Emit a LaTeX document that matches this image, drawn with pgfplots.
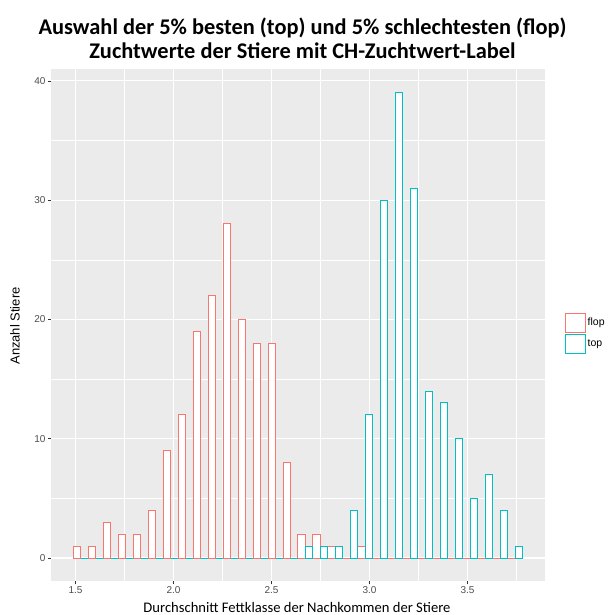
\documentclass[border=0pt]{standalone}
\usepackage{pgfplots}
\pgfplotsset{compat=1.18}
\usepackage{fontspec}
\setmainfont{Liberation Sans}
\newfontfamily\calibri{Carlito}
\definecolor{flopc}{HTML}{F8766D}
\definecolor{topc}{HTML}{00BFC4}
\definecolor{panelbg}{HTML}{EBEBEB}
\definecolor{gray30}{HTML}{4D4D4D}
\definecolor{gray20}{HTML}{333333}
\begin{document}
\begin{tikzpicture}[x=1pt,y=1pt]
\useasboundingbox (0,0) rectangle (607,615);
\begin{axis}[
  at={(51pt,33.7pt)}, anchor=south west,
  scale only axis, width=494pt, height=511.8pt,
  xmin=1.3752, xmax=3.8954, ymin=-1.95, ymax=40.95,
  axis background/.style={fill=panelbg},
  axis line style={draw=none},
  xtick={1.5,2.0,2.5,3.0,3.5},
  minor xtick={1.75,2.25,2.75,3.25,3.75},
  ytick={0,10,20,30,40},
  minor ytick={5,15,25,35},
  xticklabels={1.5,2.0,2.5,3.0,3.5},
  grid=both,
  major grid style={white, line width=1.1pt},
  minor grid style={white, line width=0.55pt},
  tick align=outside,
  major tick length=3pt,
  minor tick length=0pt,
  xtick pos=bottom, ytick pos=left,
  tick style={gray20, line width=0.55pt},
  /pgf/number format/assume math mode=true,
  ticklabel style={font=\fontsize{10}{12}\selectfont, text=gray30},
  xticklabel style={yshift=1pt},
  yticklabel style={xshift=1pt},
  legend style={at={(1.0405,0.485)}, anchor=west, draw=none, fill=none,
    inner sep=0pt, row sep=1pt,
    font=\fontsize{10.5}{12}\selectfont,
    nodes={inner sep=1.5pt, anchor=west}},
  legend cell align=left,
  legend image code/.code={\draw[#1, fill=white] (0pt,-9.5pt) rectangle (20pt,9.5pt);},
  clip=false,
]
\addplot[ybar, bar shift=0pt, bar width=0.03818, draw=flopc, fill=white, line width=1.0pt] coordinates {
(1.5089,1) (1.5853,1) (1.6616,3) (1.7380,2) (1.8143,2) (1.8907,4)
(1.9670,9) (2.0434,12) (2.1198,19) (2.1961,22) (2.2725,28) (2.3488,20)
(2.4252,18) (2.5016,18) (2.5779,8) (2.6543,2) (2.7306,2) (2.8070,1)
(2.8834,0) (2.9597,1) (3.0361,0) (3.1124,0) (3.1888,0) (3.2652,0)
(3.3415,0) (3.4179,0) (3.4942,0) (3.5706,0) (3.6470,0) (3.7233,0)
};
\addplot[ybar, bar shift=0pt, bar width=0.03818, draw=topc, fill=white, line width=1.0pt] coordinates {
(1.5471,0) (1.6234,0) (1.6998,0) (1.7762,0) (1.8525,0) (1.9289,0)
(2.0052,0) (2.0816,0) (2.1579,0) (2.2343,0) (2.3107,0) (2.3870,0)
(2.4634,0) (2.5397,0) (2.6161,0) (2.6925,1) (2.7688,1) (2.8452,1)
(2.9215,4) (2.9979,12) (3.0743,30) (3.1506,39) (3.2270,31) (3.3033,14)
(3.3797,13) (3.4561,10) (3.5324,5) (3.6088,7) (3.6851,4) (3.7615,1)
};
\legend{flop,top}
\end{axis}
\node[font=\calibri\bfseries\fontsize{22.4}{26}\selectfont] at (302.5,587.5) {Auswahl der 5\% besten (top) und 5\% schlechtesten (flop)};
\node[font=\calibri\bfseries\fontsize{22.4}{26}\selectfont] at (302.5,564) {Zuchtwerte der Stiere mit CH-Zuchtwert-Label};
\node[font=\calibri\fontsize{14.6}{17}\selectfont] at (297,7.5) {Durchschnitt Fettklasse der Nachkommen der Stiere};
\node[font=\fontsize{13}{15}\selectfont, rotate=90] at (15,289) {Anzahl Stiere};
\end{tikzpicture}
\end{document}
